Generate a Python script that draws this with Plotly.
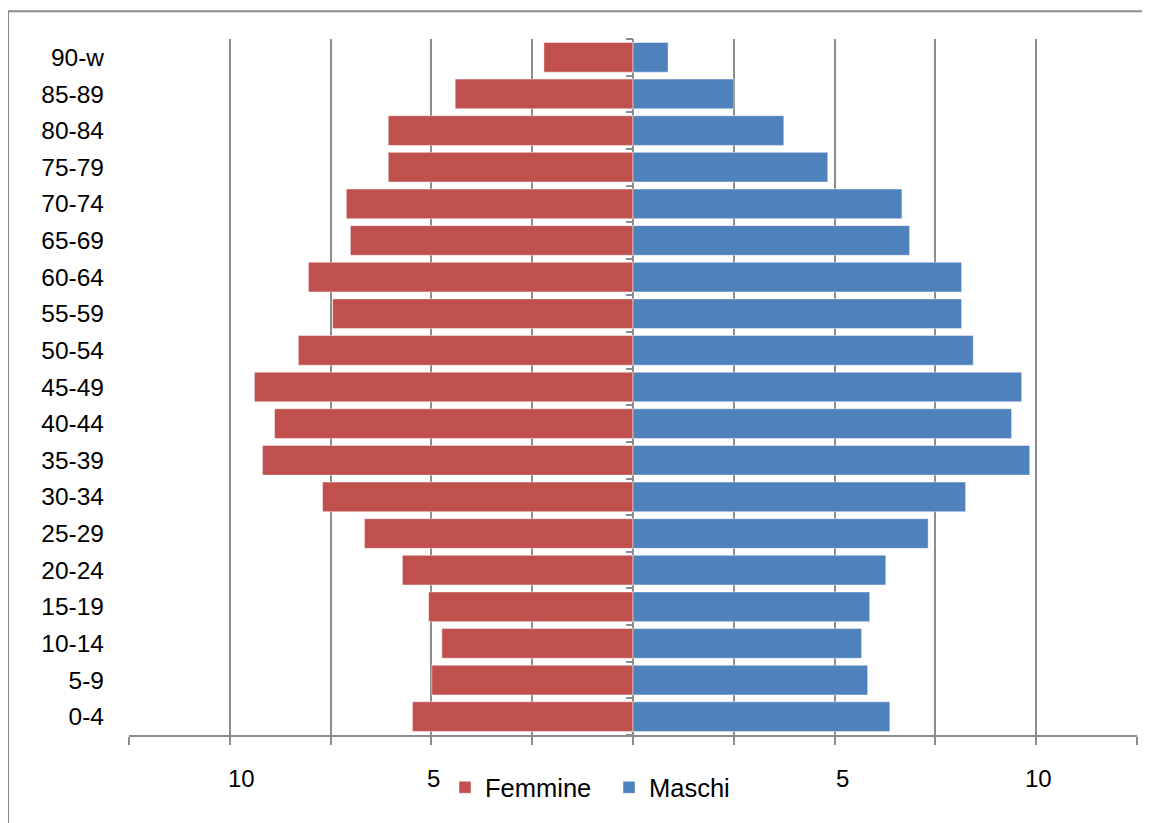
import plotly.graph_objects as go

age_groups = ["0-4", "5-9", "10-14", "15-19", "20-24", "25-29", "30-34", "35-39",
              "40-44", "45-49", "50-54", "55-59", "60-64", "65-69", "70-74",
              "75-79", "80-84", "85-89", "90-w"]
femmine = [5.47, 4.99, 4.74, 5.07, 5.72, 6.66, 7.70, 9.19, 8.89, 9.39, 8.30,
           7.45, 8.05, 7.01, 7.11, 6.07, 6.07, 4.41, 2.21]
maschi = [6.37, 5.82, 5.67, 5.87, 6.27, 7.32, 8.25, 9.84, 9.39, 9.64, 8.44,
          8.15, 8.15, 6.86, 6.67, 4.83, 3.74, 2.50, 0.87]
x_tick_vals = [-9.7, -4.95, 5.2, 10.05]
x_tick_text = ["10", "5", "5", "10"]

RED = "#C0504D"
BLUE = "#4F81BD"
GRID = "#8C8C8C"
FONT = "Liberation Sans, Arial, sans-serif"

fig = go.Figure()
fig.add_trace(go.Bar(
    y=age_groups, x=[-v for v in femmine], orientation="h", name="Femmine",
    marker=dict(color=RED, line=dict(color="rgba(255,255,255,0.45)", width=1)),
    yaxis="y",
))
fig.add_trace(go.Bar(
    y=age_groups, x=maschi, orientation="h", name="Maschi",
    marker=dict(color=BLUE, line=dict(color="rgba(255,255,255,0.45)", width=1)),
    yaxis="y2",
))

for v, t in zip(x_tick_vals, x_tick_text):
    fig.add_annotation(x=v, xref="x", y=-0.063, yref="paper", text=t,
                       showarrow=False, font=dict(size=24, color="#000", family=FONT),
                       xanchor="center", yanchor="middle")

fig.add_shape(type="rect", xref="paper", yref="paper", x0=-0.12, x1=1.3,
              y0=-0.4, y1=1.04, line=dict(color="#8C8C8C", width=2),
              fillcolor="rgba(0,0,0,0)", layer="below")

fig.update_layout(
    width=1142, height=815,
    margin=dict(l=121, r=13, t=31, b=86),
    paper_bgcolor="white", plot_bgcolor="white",
    barmode="overlay", bargap=0.19,
    font=dict(family=FONT, size=24, color="#000"),
    xaxis=dict(
        range=[-12.5, 12.5], tickmode="linear", tick0=0, dtick=2.5,
        showticklabels=False, ticks="outside", ticklen=8, tickwidth=2, tickcolor=GRID,
        showgrid=True, gridcolor=GRID, gridwidth=2,
        showline=True, linecolor=GRID, linewidth=2,
        zeroline=True, zerolinecolor=GRID, zerolinewidth=2, fixedrange=True,
    ),
    yaxis=dict(
        type="category", categoryorder="array", categoryarray=age_groups,
        range=[-0.5, 18.5], showgrid=False, showline=False, zeroline=False,
        ticks="", ticklabelstandoff=24,
        tickfont=dict(size=24.5, family=FONT, color="#000"),
    ),
    yaxis2=dict(
        type="category", categoryorder="array", categoryarray=age_groups,
        range=[-0.5, 18.5], overlaying="y", anchor="free", position=0.5,
        side="left", showticklabels=False, showgrid=False, zeroline=False,
        showline=False, ticks="outside", tickson="boundaries", ticklen=7,
        tickwidth=2, tickcolor=GRID,
    ),
    legend=dict(
        orientation="h", x=0.3135, xanchor="left", y=-0.042, yanchor="top",
        font=dict(size=25.5, family=FONT, color="#000"),
        itemwidth=30, entrywidth=119, bgcolor="rgba(0,0,0,0)",
    ),
)

fig.write_html("out.html")
